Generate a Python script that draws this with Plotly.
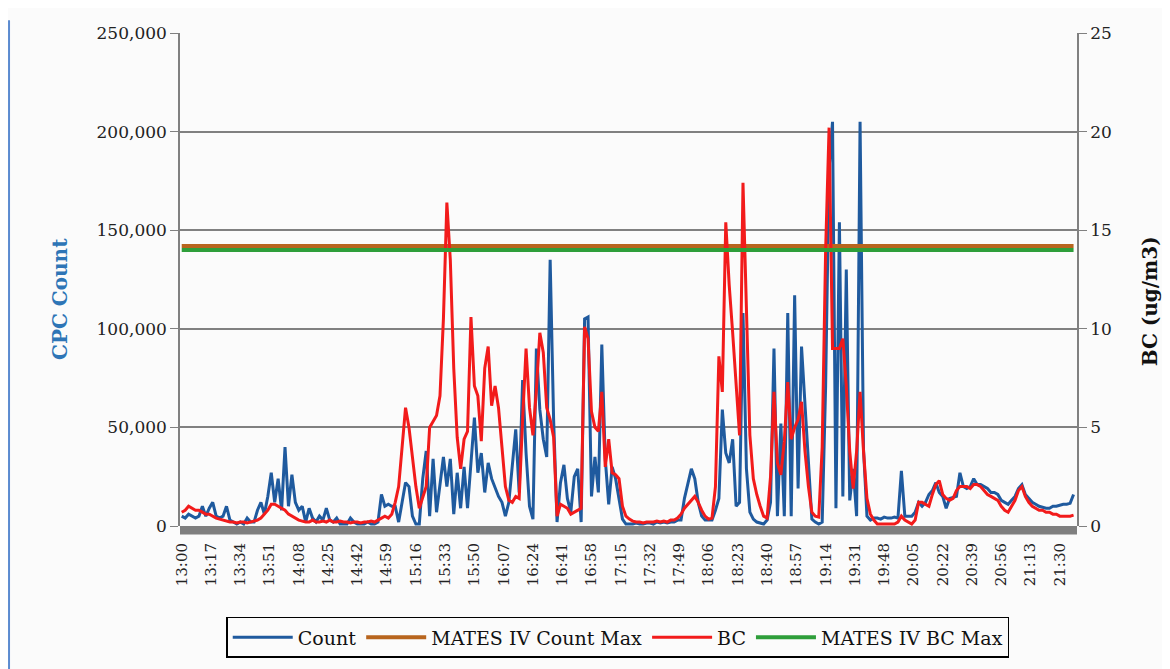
import plotly.graph_objects as go

# sample times, minutes after 13:00 (every 2 minutes)
minutes = list(range(0, 520, 2))

tick_minutes = list(range(0, 511, 17))
tick_labels = ["13:00", "13:17", "13:34", "13:51", "14:08", "14:25", "14:42", "14:59",
               "15:16", "15:33", "15:50", "16:07", "16:24", "16:41", "16:58", "17:15",
               "17:32", "17:49", "18:06", "18:23", "18:40", "18:57", "19:14", "19:31",
               "19:48", "20:05", "20:22", "20:39", "20:56", "21:13", "21:30"]

# CPC particle count
count = [
    5000, 4000, 6000, 5000, 4000, 5000, 10000, 5000, 9000, 12000,
    5000, 4000, 5000, 10000, 3000, 2000, 1000, 2000, 1000, 4000,
    2000, 2000, 8000, 12000, 6000, 15000, 27000, 12000, 24000, 8000,
    40000, 10000, 26000, 12000, 8000, 10000, 2000, 9000, 4000, 2000,
    5000, 3000, 9000, 3000, 2000, 4000, 1000, 1000, 1000, 4000,
    2000, 1000, 1000, 1000, 2000, 1000, 1000, 2000, 16000, 10000,
    11000, 10000, 10000, 2000, 12000, 22000, 20000, 5000, 1000, 1000,
    24000, 38000, 5000, 34000, 7000, 20000, 35000, 20000, 34000, 6000,
    27000, 9000, 30000, 9000, 30000, 55000, 27000, 37000, 17000, 32000,
    24000, 19000, 15000, 12000, 5000, 12000, 30000, 49000, 17000, 74000,
    37000, 10000, 3500, 90000, 59000, 44000, 35000, 135000, 54000, 2000,
    22000, 31000, 14000, 7000, 25000, 29000, 2000, 105000, 106000, 15000,
    35000, 17000, 92000, 34000, 11000, 30000, 24000, 14000, 3500, 1000,
    1000, 1000, 1500, 1000, 1000, 1500, 1500, 1000, 2000, 1500,
    2000, 1500, 2000, 2000, 3000, 3000, 14000, 22000, 29000, 24000,
    12000, 5000, 3000, 3000, 3000, 8000, 14000, 59000, 37000, 32000,
    44000, 10000, 12000, 108000, 29000, 7000, 3500, 2000, 1500, 1000,
    3000, 12000, 90000, 5000, 52000, 5000, 108000, 5000, 117000, 19000,
    91000, 63000, 29000, 3500, 2000, 1000, 2000, 71000, 181000, 205000,
    9000, 154000, 15000, 130000, 13000, 29000, 5000, 205000, 39000, 5000,
    3000, 4000, 4000, 3500, 4500, 4000, 4000, 4500, 4000, 28000,
    5000, 5000, 5000, 7000, 12000, 10000, 12000, 16000, 18000, 22000,
    17000, 15000, 9000, 14000, 14500, 15000, 27000, 20000, 19000, 20000,
    24000, 21000, 21000, 20000, 19000, 17000, 17000, 16000, 13000, 12000,
    11000, 13000, 15000, 19000, 21000, 16000, 14000, 12000, 11000, 10000,
    9500, 9000, 9000, 10000, 10000, 10500, 11000, 11000, 11500, 16000,
]

# black carbon, ug/m3
bc = [
    0.7, 0.8, 1.0, 0.9, 0.8, 0.8, 0.7, 0.6, 0.6, 0.5,
    0.4, 0.35, 0.3, 0.25, 0.2, 0.2, 0.15, 0.2, 0.2, 0.15,
    0.2, 0.25, 0.3, 0.4, 0.6, 0.8, 1.1, 1.1, 1.0, 0.9,
    0.8, 0.6, 0.5, 0.4, 0.3, 0.25, 0.2, 0.2, 0.3, 0.2,
    0.2, 0.25, 0.2, 0.3, 0.2, 0.2, 0.25, 0.2, 0.2, 0.15,
    0.2, 0.2, 0.15, 0.2, 0.2, 0.25, 0.2, 0.3, 0.4, 0.5,
    0.4, 0.6, 1.2, 2.0, 4.0, 6.0, 5.0, 3.4, 2.0, 0.9,
    1.4, 2.0, 5.0, 5.3, 5.6, 6.6, 10.5, 16.4, 13.5, 8.0,
    4.5, 2.9, 4.4, 4.8, 10.6, 7.1, 6.6, 4.3, 8.0, 9.1,
    6.1, 7.1, 6.0, 4.0, 2.0, 1.3, 1.2, 1.5, 1.4, 5.4,
    9.0, 6.0, 4.6, 6.9, 9.8, 8.8, 6.0, 5.4, 4.5, 0.5,
    1.1, 1.0, 0.9, 0.6, 0.7, 0.8, 0.9, 10.1, 9.5, 5.8,
    5.0, 4.8, 6.8, 3.0, 4.4, 2.7, 2.6, 2.4, 1.0, 0.5,
    0.35, 0.25, 0.2, 0.2, 0.15, 0.2, 0.2, 0.2, 0.25, 0.2,
    0.25, 0.2, 0.3, 0.3, 0.4, 0.6, 0.9, 1.1, 1.3, 1.5,
    1.2, 0.8, 0.5, 0.35, 0.4, 2.0, 8.6, 6.8, 15.4, 12.2,
    9.8, 7.0, 4.6, 17.4, 10.5, 4.6, 2.4, 1.6, 1.0, 0.5,
    0.4, 2.5, 6.8, 3.2, 2.6, 4.3, 7.3, 4.4, 5.0, 5.4,
    6.3, 3.8, 2.0, 0.7, 0.5, 0.45, 4.0, 14.0, 20.2, 9.0,
    9.0, 9.0, 9.5, 7.1, 3.8, 1.9, 3.8, 6.8, 3.8, 1.4,
    0.6, 0.3, 0.1, 0.1, 0.1, 0.1, 0.1, 0.1, 0.2, 0.5,
    0.3, 0.2, 0.1, 0.3, 1.2, 1.2, 1.1, 1.0, 1.6, 2.1,
    2.3, 1.6, 1.4, 1.3, 1.4, 1.8, 2.0, 2.0, 2.0, 1.9,
    2.1, 2.1, 2.0, 1.8, 1.6, 1.5, 1.4, 1.3, 1.0, 0.8,
    0.7, 1.0, 1.3, 1.8, 2.0, 1.5, 1.2, 1.0, 0.9, 0.8,
    0.8, 0.7, 0.7, 0.6, 0.6, 0.5, 0.5, 0.5, 0.5, 0.55,
]

mates_count_max = 142000
mates_bc_max = 14.0

FONT = "DejaVu Serif"
span = [minutes[0], minutes[-1]]

fig = go.Figure()
fig.add_trace(go.Scatter(x=minutes, y=count, name="Count", mode="lines",
                         line=dict(color="#1F5A9E", width=3)))
fig.add_trace(go.Scatter(x=span, y=[mates_count_max] * 2, name="MATES IV Count Max",
                         mode="lines", line=dict(color="#B8651E", width=4)))
fig.add_trace(go.Scatter(x=minutes, y=bc, name="BC", mode="lines", yaxis="y2",
                         line=dict(color="#F21B1B", width=3)))
fig.add_trace(go.Scatter(x=span, y=[mates_bc_max] * 2, name="MATES IV BC Max",
                         mode="lines", yaxis="y2", line=dict(color="#2E9E3A", width=4)))

# the page adds an 8px body margin, so the figure is 8px smaller than the window
fig.update_layout(
    width=1162, height=661,
    margin=dict(l=172, r=93, t=25, b=142),
    paper_bgcolor="#FBFBFB", plot_bgcolor="#FBFBFB",
    font=dict(family=FONT, color="#222222"),
    showlegend=True,
    legend=dict(orientation="h", x=0.488, xanchor="center", y=-0.182, yanchor="top",
                bordercolor="#000000", borderwidth=1.5, bgcolor="#FBFBFB",
                font=dict(size=19, color="#111111"), itemwidth=60),
    xaxis=dict(range=[-1, 520], tickmode="array", tickvals=tick_minutes, ticktext=tick_labels,
               tickangle=-90, tickfont=dict(size=15), ticks="outside", ticklen=10,
               tickcolor="rgba(0,0,0,0)", showgrid=False, zeroline=False, showline=False),
    yaxis=dict(range=[0, 250000], dtick=50000, tickformat=",", tickfont=dict(size=17),
               ticks="outside", ticklen=8, tickcolor="#808080",
               showgrid=True, gridcolor="#808080", gridwidth=1.5,
               showline=True, linecolor="#808080", linewidth=1.5, zeroline=False),
    yaxis2=dict(range=[0, 25], dtick=5, overlaying="y", side="right", tickfont=dict(size=17),
                ticks="outside", ticklen=8, tickcolor="#808080", showgrid=False,
                showline=True, linecolor="#808080", linewidth=1.5, zeroline=False),
    annotations=[
        dict(text="<b>CPC Count</b>", textangle=-90, x=-0.134, xref="paper", y=0.46,
             yref="paper", showarrow=False, font=dict(size=20, color="#2E75B6", family=FONT),
             xanchor="center", yanchor="middle"),
        dict(text="<b>BC (ug/m3)</b>", textangle=-90, x=1.081, xref="paper", y=0.455,
             yref="paper", showarrow=False, font=dict(size=20, color="#111111", family=FONT),
             xanchor="center", yanchor="middle"),
    ],
    shapes=[
        # thick grey category axis
        dict(type="rect", xref="paper", yref="paper", x0=0, x1=1, y0=-0.017, y1=0,
             fillcolor="#7F7F7F", line=dict(width=0)),
        # outer blue frame edges
        dict(type="line", xref="paper", yref="paper", x0=-0.1906, x1=-0.1906, y0=-0.31, y1=1.026,
             line=dict(color="#5B8BD0", width=2)),
        dict(type="line", xref="paper", yref="paper", x0=1.1003, x1=1.1003, y0=-0.31, y1=1.026,
             line=dict(color="#5B8BD0", width=2)),
    ],
)

fig.write_html("out.html")
